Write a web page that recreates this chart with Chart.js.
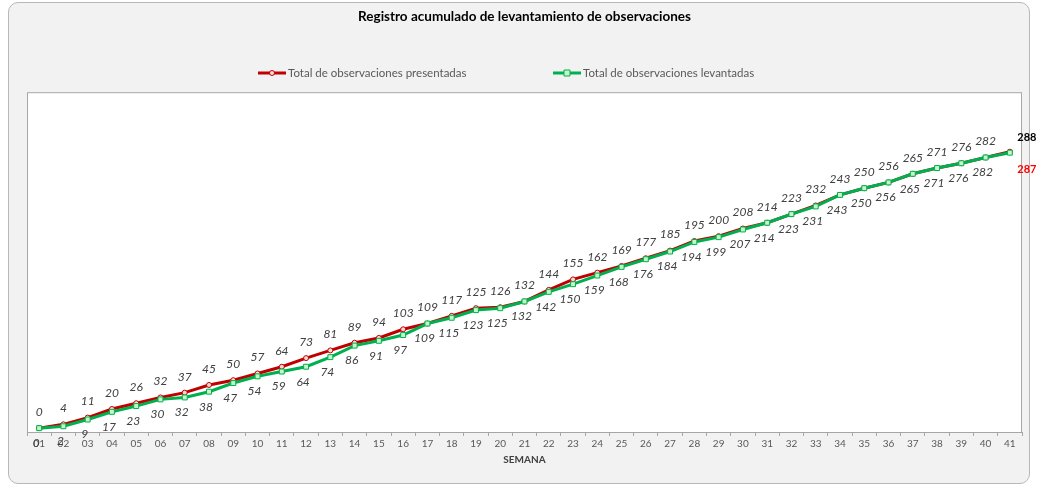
<!DOCTYPE html>
<html>
<head>
<meta charset="utf-8">
<script src="https://cdn.jsdelivr.net/npm/chart.js@4.4.0/dist/chart.umd.min.js"></script>
<style>
  body { margin: 0; background: #ffffff; }
  #frame {
    position: absolute; left: 8px; top: 2px; width: 1020px; height: 480px;
    border: 1px solid #b8b8b8; border-radius: 10px; background: #f2f2f2;
  }
  #wrap { position: absolute; left: 0; top: 0; width: 1038px; height: 488px; }
</style>
</head>
<body>
<div id="frame"></div>
<div id="wrap"><canvas id="chart" width="1038" height="488"></canvas></div>
<script>
const semanas = ['01', '02', '03', '04', '05', '06', '07', '08', '09', '10', '11', '12', '13', '14', '15', '16', '17', '18', '19', '20', '21',
    '22', '23', '24', '25', '26', '27', '28', '29', '30', '31', '32', '33', '34', '35', '36', '37', '38', '39', '40', '41'];
const presentadas = [0, 4, 11, 20, 26, 32, 37, 45, 50, 57, 64, 73, 81, 89, 94, 103, 109, 117, 125, 126, 132,
    144, 155, 162, 169, 177, 185, 195, 200, 208, 214, 223, 232, 243, 250, 256, 265, 271, 276, 282, 288];
const levantadas = [0, 2, 9, 17, 23, 30, 32, 38, 47, 54, 59, 64, 74, 86, 91, 97, 109, 115, 123, 125, 132,
    142, 150, 159, 168, 176, 184, 194, 199, 207, 214, 223, 231, 243, 250, 256, 265, 271, 276, 282, 287];

const fontFam = 'Lato, "Open Sans", sans-serif';

// white plot box with grey border
const plotBox = {
    id: 'plotBox',
    beforeDraw(chart) {
        const { ctx, chartArea: a } = chart;
        ctx.save();
        ctx.fillStyle = '#ffffff';
        ctx.fillRect(a.left, a.top, a.right - a.left, a.bottom - a.top);
        ctx.strokeStyle = '#a6a6a6';
        ctx.lineWidth = 1;
        ctx.strokeRect(a.left + 0.5, a.top + 0.5, a.right - a.left - 1, a.bottom - a.top);
        ctx.restore();
    }
};

// legend: line + marker + text
const lineLegend = {
    id: 'lineLegend',
    afterDraw(chart) {
        const ctx = chart.ctx;
        const items = [
            { x: 258, color: '#c00000', fill: '#ffd6d6', square: false, text: 'Total de observaciones presentadas' },
            { x: 553, color: '#00b050', fill: '#c6f5c6', square: true, text: 'Total de observaciones levantadas' }
        ];
        const y = 73;
        ctx.save();
        items.forEach(it => {
            ctx.strokeStyle = it.color;
            ctx.lineWidth = 3;
            ctx.beginPath();
            ctx.moveTo(it.x, y);
            ctx.lineTo(it.x + 28, y);
            ctx.stroke();
            ctx.lineWidth = 1;
            ctx.fillStyle = it.fill;
            ctx.beginPath();
            if (it.square) {
                ctx.rect(it.x + 11, y - 3, 6, 6);
            } else {
                ctx.arc(it.x + 14, y, 2.5, 0, Math.PI * 2);
            }
            ctx.fill();
            ctx.stroke();
            ctx.fillStyle = '#595959';
            ctx.font = '11.5px ' + fontFam;
            ctx.textBaseline = 'middle';
            ctx.textAlign = 'left';
            ctx.fillText(it.text, it.x + 30, y);
        });
        ctx.restore();
    }
};

// value labels: presentadas above, levantadas below
const valueLabels = {
    id: 'valueLabels',
    afterDatasetsDraw(chart) {
        const ctx = chart.ctx;
        const last = semanas.length - 1;
        ctx.save();
        ctx.textAlign = 'center';
        ctx.textBaseline = 'middle';
        chart.data.datasets.forEach((ds, di) => {
            const meta = chart.getDatasetMeta(di);
            meta.data.forEach((pt, i) => {
                const v = ds.data[i];
                if (i === last) {
                    ctx.font = 'bold 11px ' + fontFam;
                    ctx.fillStyle = di === 0 ? '#000000' : '#ff0000';
                    ctx.fillText(v, pt.x + 17, pt.y + (di === 0 ? -14 : 17));
                    return;
                }
                ctx.font = 'italic 12px ' + fontFam;
                ctx.fillStyle = '#404040';
                if (di === 0) {
                    ctx.fillText(v, pt.x, pt.y - 16);
                } else {
                    ctx.fillText(v, pt.x - 3, pt.y + 15);
                }
            });
        });
        ctx.restore();
    }
};

new Chart(document.getElementById('chart'), {
    type: 'line',
    data: {
        labels: semanas,
        datasets: [
            {
                label: 'Total de observaciones presentadas',
                data: presentadas,
                borderColor: '#c00000',
                backgroundColor: '#ffd6d6',
                borderWidth: 3,
                pointStyle: 'circle',
                pointRadius: 2.5,
                pointBorderWidth: 1,
                tension: 0,
                order: 2
            },
            {
                label: 'Total de observaciones levantadas',
                data: levantadas,
                borderColor: '#00b050',
                backgroundColor: '#c6f5c6',
                borderWidth: 3,
                pointStyle: 'rect',
                pointRadius: 3.5,
                pointBorderWidth: 1,
                tension: 0,
                order: 1
            }
        ]
    },
    options: {
        responsive: false,
        animation: false,
        layout: { padding: { left: 27, right: 16, top: 0, bottom: 22 } },
        scales: {
            x: {
                offset: true,
                grid: { drawOnChartArea: false, tickLength: 4, color: '#a6a6a6', offset: true },
                border: { color: '#a6a6a6' },
                ticks: { color: '#595959', font: { family: fontFam, size: 10 }, maxRotation: 0, autoSkip: false, padding: 2 },
                title: { display: true, text: 'SEMANA', color: '#404040', font: { family: fontFam, size: 10, weight: 'bold' }, padding: { top: 2, bottom: 0 } }
            },
            y: {
                display: false,
                min: -4,
                max: 350
            }
        },
        plugins: {
            legend: { display: false },
            tooltip: { enabled: false },
            title: {
                display: true,
                text: 'Registro acumulado de levantamiento de observaciones',
                color: '#000000',
                font: { family: fontFam, size: 13.5, weight: 'bold' },
                padding: { top: 9, bottom: 67 }
            }
        }
    },
    plugins: [plotBox, lineLegend, valueLabels]
});
</script>
</body>
</html>
